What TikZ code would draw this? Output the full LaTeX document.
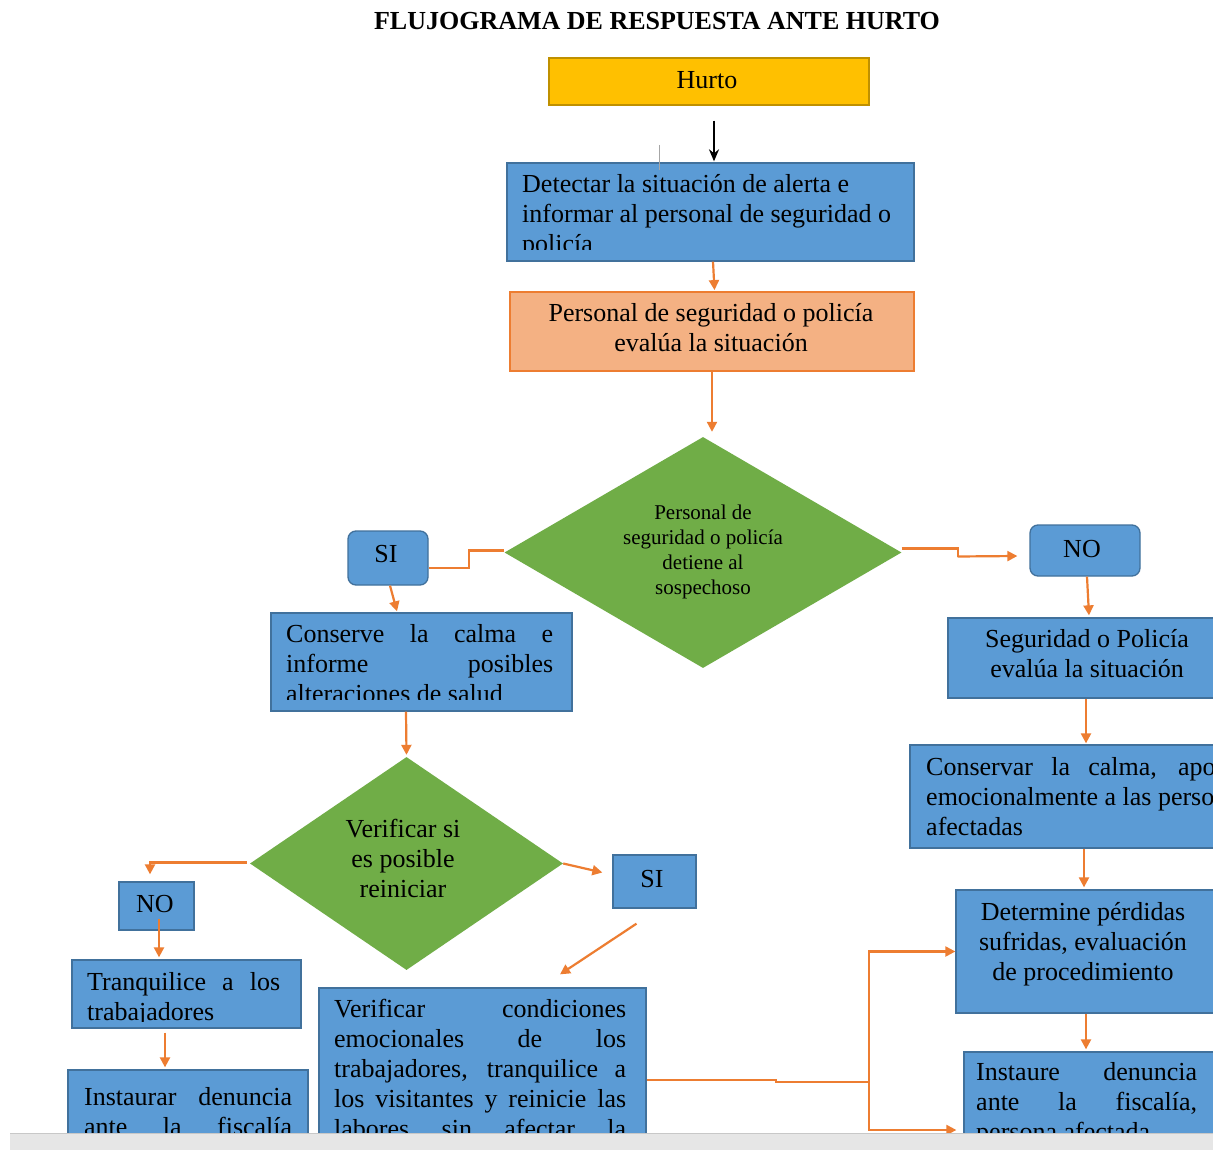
\documentclass[tikz,border=0pt]{standalone}
\usepackage{fontspec}
\setmainfont{Liberation Serif}
\usetikzlibrary{shapes.geometric,arrows.meta,calc}
\definecolor{bfill}{RGB}{91,155,213}
\definecolor{bdraw}{RGB}{65,113,156}
\definecolor{salmon}{RGB}{244,177,131}
\definecolor{ora}{RGB}{237,125,49}
\definecolor{gfill}{RGB}{112,173,71}
\definecolor{yfill}{RGB}{255,192,0}
\definecolor{ydraw}{RGB}{191,144,0}
\definecolor{barfill}{RGB}{230,230,230}
\definecolor{barline}{RGB}{200,200,200}
\newcommand\JL[2]{\makebox[#1][s]{#2}}
\begin{document}
\begin{tikzpicture}[x=1pt,y=-1pt,
  box/.style={draw=bdraw, fill=bfill, line width=1.3pt, inner sep=0pt},
  rbox/.style={box, rounded corners=8pt},
  dia/.style={diamond, fill=gfill, inner sep=0pt},
  txt/.style={inner sep=0pt, text=black, font=\fontsize{26}{30}\selectfont},
  stxt/.style={inner sep=0pt, text=black, font=\fontsize{21}{25}\selectfont},
  arr/.style={draw=ora, line width=2.2pt, -{Triangle[length=10pt,width=10pt]}},
  lin/.style={draw=ora, line width=2.2pt}]
\useasboundingbox (0,0) rectangle (1213,1150);
\clip (0,0) rectangle (1213,1150);
\fill[white] (0,0) rectangle (1213,1150);

% title
\node[txt, anchor=base, font=\fontsize{26}{30}\selectfont\bfseries] (title) at (657,30) {FLUJOGRAMA DE RESPUESTA ANTE HURTO};

% shapes
\node[draw=ydraw, fill=yfill, line width=1.5pt, minimum width=320pt, minimum height=47pt] (hurto) at (709,81.5) {};
\node[box, minimum width=407pt, minimum height=98pt] (det) at (710.5,212) {};
\node[draw=ora, fill=salmon, line width=1.8pt, minimum width=404pt, minimum height=79pt] (eval) at (712,331.5) {};
\node[dia, minimum width=397pt, minimum height=231pt] (d1) at (703,552.5) {};
\node[rbox, minimum width=80pt, minimum height=54pt] (si1) at (388,558) {};
\node[box, minimum width=301pt, minimum height=98pt] (cons) at (421.5,662) {};
\node[rbox, minimum width=110pt, minimum height=51pt] (no1) at (1085,550.5) {};
\node[box, minimum width=278pt, minimum height=80pt] (seg) at (1087,658) {};
\node[box, minimum width=360pt, minimum height=103pt] (consv) at (1090,796.5) {};
\node[box, minimum width=260pt, minimum height=123pt] (detm) at (1086,951.5) {};
\node[box, minimum width=252pt, minimum height=108pt] (inst) at (1090,1106) {};
\node[dia, minimum width=313pt, minimum height=213pt] (d2) at (406.5,863.5) {};
\node[box, minimum width=75pt, minimum height=48pt] (no2) at (156.5,906) {};
\node[box, minimum width=83pt, minimum height=53pt] (si2) at (654.5,881.5) {};
\node[box, minimum width=229pt, minimum height=68pt] (tranq) at (186.5,994) {};
\node[box, minimum width=240pt, minimum height=90pt] (instr) at (188,1115) {};
\node[box, minimum width=327pt, minimum height=172pt] (verif) at (482.5,1074) {};

% texts (anchor base = baseline of the last line)
\node[txt, anchor=base] (thurto) at (707,89) {Hurto};
\begin{scope}
\clip (507,163) rectangle (914,250);
\node[txt, anchor=base west, align=left] (tdet) at (522,253) {Detectar la situación de alerta e\\informar al personal de seguridad o\\policía};
\end{scope}
\node[txt, anchor=base, align=center] (teval) at (711,352) {Personal de seguridad o policía\\evalúa la situación};
\node[stxt, anchor=base, align=center] (td1) at (703,594) {Personal de\\seguridad o policía\\detiene al\\sospechoso};
\node[txt, anchor=base] (tsi1) at (386,562) {SI};
\begin{scope}
\clip (271,613) rectangle (572,699);
\node[txt, anchor=base west, align=left] (tcons) at (286,702) {\JL{267pt}{Conserve la calma e}\\\JL{267pt}{informe posibles}\\alteraciones de salud};
\end{scope}
\node[txt, anchor=base] (tno1) at (1082,557) {NO};
\node[txt, anchor=base, align=center] (tseg) at (1087,677) {Seguridad o Policía\\evalúa la situación};
\node[txt, anchor=base west, align=left] (tconsv) at (926,835) {\JL{314pt}{Conservar la calma, apoye}\\emocionalmente a las personas\\afectadas};
\node[txt, anchor=base, align=center] (tdetm) at (1083,980) {Determine pérdidas\\sufridas, evaluación\\de procedimiento};
\node[txt, anchor=base west, align=left] (tinst) at (976,1140) {\JL{221pt}{Instaure denuncia}\\\JL{221pt}{ante la fiscalía,}\\persona afectada};
\node[txt, anchor=base, align=center] (td2) at (403,897) {Verificar si\\es posible\\reiniciar};
\node[txt, anchor=base] (tno2) at (155,912) {NO};
\node[txt, anchor=base] (tsi2) at (652,887) {SI};
\begin{scope}
\clip (72,960) rectangle (301,1021);
\node[txt, anchor=base west, align=left] (ttranq) at (87,1020) {\JL{193pt}{Tranquilice a los}\\trabajadores};
\end{scope}
\node[txt, anchor=base west, align=left] (tinstr) at (84,1135) {\JL{208pt}{Instaurar denuncia}\\\JL{208pt}{ante la fiscalía}};
\node[txt, anchor=base west, align=left] (tverif) at (334,1137) {\JL{292pt}{Verificar condiciones}\\\JL{292pt}{emocionales de los}\\\JL{292pt}{trabajadores, tranquilice a}\\\JL{292pt}{los visitantes y reinicie las}\\\JL{292pt}{labores sin afectar la}};

% stray mark
\coordinate (stray) at (659,145);
\draw[gray!70, line width=1pt] (stray) -- ([shift={(-51.5,8)}]det.north);

% connectors
\draw[black, line width=2pt, -{Stealth[length=12pt,width=10pt]}] ([shift={(5,15)}]hurto.south) -- ([shift={(3.5,-1)}]det.north);
\draw[arr] ([shift={(2.5,0)}]det.south) -- ([shift={(2.5,-1)}]eval.north);
\draw[arr] (eval.south) -- ([shift={(9,-5)}]d1.north);
\draw[lin] ([shift={(0,-2)}]d1.west) -- ++(-35,0) |- ([shift={(0,10)}]si1.east);
\draw[arr] ([shift={(2,0)}]si1.south) -- ([shift={(-24.5,-1)}]cons.north);
\draw[lin] ([shift={(0,-4)}]d1.east) -- ++(56,0) -- ++(0,8) coordinate (k1);
\draw[arr] (k1) -- ([shift={(-12,5.5)}]no1.west);
\draw[arr] ([shift={(2,0)}]no1.south) -- ([shift={(2,-2)}]seg.north);
\draw[arr] ([shift={(-1,0)}]seg.south) -- ([shift={(-4,-1)}]consv.north);
\draw[arr] ([shift={(-6,0)}]consv.south) -- ([shift={(-2,-2)}]detm.north);
\draw[arr] (detm.south) -- ([shift={(-4,-2)}]inst.north);
\draw[arr] ([shift={(-15.5,0)}]cons.south) -- ([shift={(0,-2)}]d2.north);
\draw[arr] ([shift={(-3,-1)}]d2.west) -| ([shift={(-6.5,-7)}]no2.north);
\draw[arr] ([shift={(2.5,-12)}]no2.south) -- ([shift={(-27.5,-2)}]tranq.north);
\draw[arr] ([shift={(-21.5,4)}]tranq.south) -- ([shift={(-23,-2)}]instr.north);
\draw[arr] (d2.east) -- ([shift={(-10,-9)}]si2.west);
\draw[arr] ([shift={(-18,15)}]si2.south) -- ([shift={(77.5,-13)}]verif.north);
\draw[lin] ([shift={(0,6)}]verif.east) -- ++(129,0) -- ++(0,2) -- ++(93,0) coordinate (j);
\draw[arr] (j) |- (detm.west);
\draw[arr] (j) |- ([shift={(-7,24)}]inst.west);

% bottom bar
\fill[barfill] (10,1133) rectangle (1213,1150);
\draw[barline, line width=1pt] (10,1133) -- (1213,1133);
\end{tikzpicture}
\end{document}
